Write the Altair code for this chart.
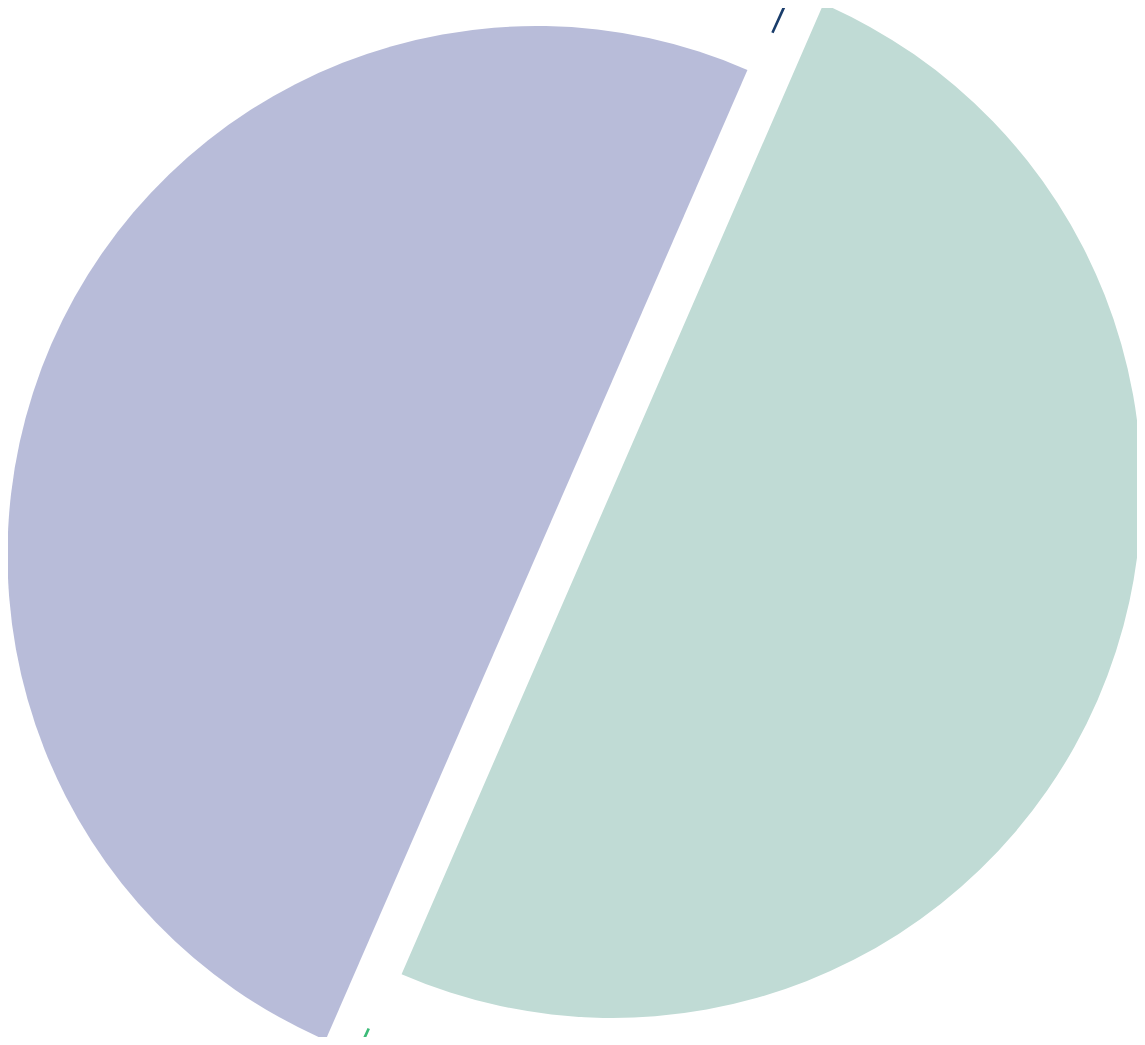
import math
import altair as alt
import pandas as pd

# Slice data (clockwise from the upper boundary)
names = ["B", "A"]
values = [50, 50]
order = [0, 1]
fills = ["#c0dbd5", "#b8bcd9"]
line_colors = ["#3cbb78", "#1a3d6b"]

df = pd.DataFrame({"name": names, "value": values, "order": order})

start = math.radians(23.5)
theta_scale = alt.Scale(domain=[0, sum(values)], range=[start, start + 2 * math.pi])

base = (
    alt.Chart(df)
    .transform_window(cum="sum(value)", sort=[alt.SortField("order")], frame=[None, 0])
    .transform_calculate(start="datum.cum - datum.value")
)


def slice_layers(name, fill, line_color, dx, dy, line_inner):
    sub = base.transform_filter(alt.datum.name == name)
    wedge = sub.mark_arc(outerRadius=529, xOffset=dx, yOffset=dy, fill=fill).encode(
        theta=alt.Theta("start:Q", scale=theta_scale), theta2="cum:Q"
    )
    leader = sub.mark_arc(
        innerRadius=line_inner,
        outerRadius=line_inner + 80,
        thetaOffset=0.012,
        theta2Offset=0.0165,
        xOffset=dx,
        yOffset=dy,
        fill=line_color,
    ).encode(theta=alt.Theta("cum:Q", scale=theta_scale), theta2="cum:Q")
    return [wedge, leader]


layers = slice_layers("B", fills[0], line_colors[0], 40, -33.5, 592) + slice_layers(
    "A", fills[1], line_colors[1], -36, 32.5, 573
)

chart = (
    alt.layer(*layers)
    .properties(width=1129, height=1029, autosize=alt.AutoSizeParams(type="none"), padding=0)
    .configure_view(stroke=None)
    .configure(background="white")
)

chart.save("out.html", embed_options={"renderer": "svg", "actions": False})
